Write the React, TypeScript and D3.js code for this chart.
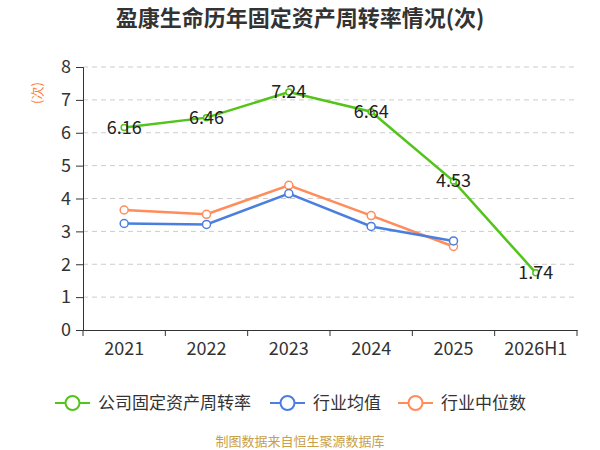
import { useEffect, useRef } from 'react';
import * as d3 from 'd3';

const categories = ['2021', '2022', '2023', '2024', '2025', '2026H1'];
const companyValues = [6.16, 6.46, 7.24, 6.64, 4.53, 1.74];
const industryAvg = [3.24, 3.21, 4.15, 3.15, 2.71];
const industryMedian = [3.65, 3.52, 4.4, 3.48, 2.54];
const yTicks = [0, 1, 2, 3, 4, 5, 6, 7, 8];

const seriesNames = ['公司固定资产周转率', '行业均值', '行业中位数'];
const seriesColors = ['#52c41a', '#4a7fe0', '#ff8c5a'];

const FONT = '"Noto Sans CJK SC", "Noto Sans", sans-serif';

export default function App() {
  const svgRef = useRef<SVGSVGElement>(null);

  useEffect(() => {
    document.body.style.margin = '0';
    if (!svgRef.current) return;
    const svg = d3.select(svgRef.current);
    svg.selectAll('*').remove();

    const margin = { top: 67, right: 23, bottom: 120, left: 83 };
    const width = 600;
    const height = 450;
    const innerW = width - margin.left - margin.right;
    const innerH = height - margin.top - margin.bottom;

    const x = d3.scaleBand().domain(categories).range([0, innerW]);
    const y = d3.scaleLinear().domain([0, 8]).range([innerH, 0]);

    // title
    svg.append('text')
      .attr('x', width / 2)
      .attr('y', 26)
      .attr('text-anchor', 'middle')
      .style('font-family', FONT)
      .style('font-size', '22px')
      .style('font-weight', 'bold')
      .style('fill', '#333')
      .text('盈康生命历年固定资产周转率情况(次)');

    // unit
    svg.append('text')
      .attr('transform', 'translate(37,93) rotate(-90)')
      .attr('text-anchor', 'middle')
      .attr('dy', '0.35em')
      .style('font-family', FONT)
      .style('font-size', '13px')
      .style('fill', '#ff7f3f')
      .text('(次)');

    const g = svg.append('g').attr('transform', `translate(${margin.left},${margin.top})`);

    // grid
    g.selectAll('.grid')
      .data(yTicks.filter(t => t > 0))
      .enter().append('line')
      .attr('x1', 0)
      .attr('x2', innerW)
      .attr('y1', d => y(d))
      .attr('y2', d => y(d))
      .attr('stroke', '#cccccc')
      .attr('stroke-dasharray', '5,4');

    // y axis
    const yAxis = g.append('g')
      .call(d3.axisLeft(y).tickValues(yTicks).tickSize(7).tickPadding(5).tickFormat(d3.format('d')));
    yAxis.select('.domain').attr('stroke', '#333');
    yAxis.selectAll('.tick line').attr('stroke', '#333');
    yAxis.selectAll('text')
      .style('font-family', FONT)
      .style('font-size', '18px')
      .style('fill', '#333');

    // x axis
    const xAxis = g.append('g')
      .attr('transform', `translate(0,${innerH})`)
      .call(d3.axisBottom(x).tickSizeOuter(0).tickSize(0).tickPadding(12));
    xAxis.select('.domain').attr('stroke', '#333');
    xAxis.selectAll('text')
      .style('font-family', FONT)
      .style('font-size', '18px')
      .style('fill', '#333');
    const bounds = categories.map(c => x(c) as number).concat([innerW]);
    xAxis.selectAll('.sep')
      .data(bounds)
      .enter().append('line')
      .attr('x1', d => d)
      .attr('x2', d => d)
      .attr('y1', 0)
      .attr('y2', 6)
      .attr('stroke', '#333');

    const cx = (i: number) => (x(categories[i]) as number) + x.bandwidth() / 2;
    const line = d3.line<number>().x((_, i) => cx(i)).y(d => y(d));

    const drawSeries = (vals: number[], color: string, r: number) => {
      g.append('path')
        .datum(vals)
        .attr('d', line)
        .attr('fill', 'none')
        .attr('stroke', color)
        .attr('stroke-width', 2.5);
      g.selectAll(null)
        .data(vals)
        .enter().append('circle')
        .attr('cx', (_, i) => cx(i))
        .attr('cy', d => y(d))
        .attr('r', r)
        .attr('fill', '#fff')
        .attr('stroke', color)
        .attr('stroke-width', 1.5);
    };

    drawSeries(industryMedian, seriesColors[2], 4);
    drawSeries(industryAvg, seriesColors[1], 4);
    drawSeries(companyValues, seriesColors[0], 3);

    // labels
    g.selectAll('.vlabel')
      .data(companyValues)
      .enter().append('text')
      .attr('x', (_, i) => cx(i))
      .attr('y', d => y(d))
      .attr('dy', '0.35em')
      .attr('text-anchor', 'middle')
      .style('font-family', FONT)
      .style('font-size', '18px')
      .style('fill', '#222')
      .text(d => d.toFixed(2));

    // legend
    const legendX = [55, 270, 398];
    const lg = svg.append('g').attr('transform', 'translate(0,403)');
    seriesNames.forEach((name, i) => {
      const item = lg.append('g').attr('transform', `translate(${legendX[i]},0)`);
      item.append('line')
        .attr('x1', 0).attr('x2', 35)
        .attr('y1', 0).attr('y2', 0)
        .attr('stroke', seriesColors[i])
        .attr('stroke-width', 2);
      item.append('circle')
        .attr('cx', 17.5).attr('cy', 0).attr('r', 7)
        .attr('fill', '#fff')
        .attr('stroke', seriesColors[i])
        .attr('stroke-width', 2);
      item.append('text')
        .attr('x', 43)
        .attr('y', 0)
        .attr('dy', '0.35em')
        .style('font-family', FONT)
        .style('font-size', '17px')
        .style('fill', '#333')
        .text(name);
    });

    // footer
    svg.append('text')
      .attr('x', width / 2)
      .attr('y', 441)
      .attr('dy', '0.35em')
      .attr('text-anchor', 'middle')
      .style('font-family', FONT)
      .style('font-size', '13px')
      .style('fill', '#c9a04a')
      .text('制图数据来自恒生聚源数据库');
  }, []);

  return (
    <div style={{ width: 600, height: 450, overflow: 'hidden' }}>
      <svg ref={svgRef} width={600} height={450} style={{ display: 'block' }} />
    </div>
  );
}
